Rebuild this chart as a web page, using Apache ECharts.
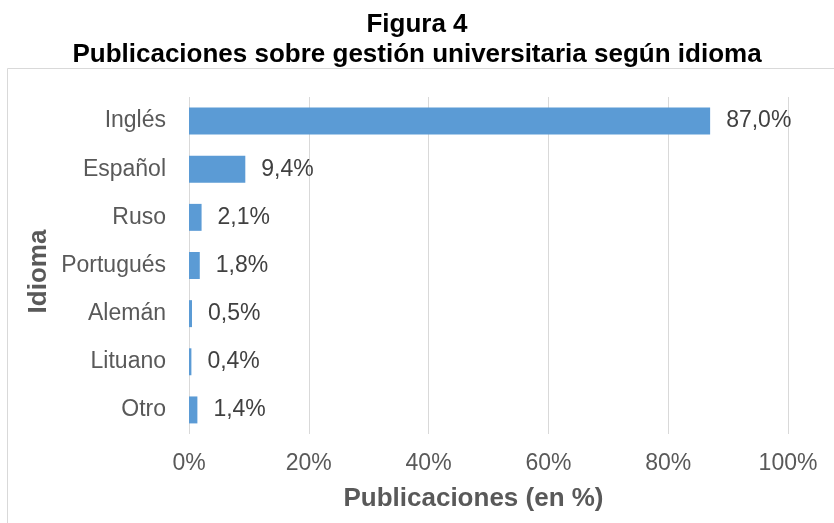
<!DOCTYPE html>
<html>
<head>
<meta charset="utf-8">
<script src="https://cdn.jsdelivr.net/npm/echarts@6/dist/echarts.min.js"></script>
<style>
  html, body { margin: 0; padding: 0; background: #fff; }
  #main { width: 834px; height: 523px; }
</style>
</head>
<body>
<div id="main"></div>
<script>
var idiomas = ['Inglés', 'Español', 'Ruso', 'Portugués', 'Alemán', 'Lituano', 'Otro'];
var porcentajes = [87.0, 9.4, 2.1, 1.8, 0.5, 0.4, 1.4];
var ticks = [0, 20, 40, 60, 80, 100];

var myChart = echarts.init(document.getElementById('main'));
var fuente = '"Liberation Sans", Arial, sans-serif';

var option = {
  backgroundColor: '#fff',
  textStyle: { fontFamily: fuente },
  title: {
    text: 'Figura 4\nPublicaciones sobre gestión universitaria según idioma',
    left: 'center',
    top: 5,
    textStyle: { fontFamily: fuente, fontSize: 26, fontWeight: 'bold', color: '#000', lineHeight: 30 }
  },
  graphic: [{
    type: 'rect',
    shape: { x: 7.5, y: 68.5, width: 900, height: 500 },
    style: { fill: 'none', stroke: '#d9d9d9', lineWidth: 1 },
    silent: true
  }],
  grid: { left: 189, right: 46, top: 97, bottom: 89 },
  xAxis: {
    type: 'value',
    min: ticks[0],
    max: ticks[ticks.length - 1],
    interval: 20,
    name: 'Publicaciones (en %)',
    nameLocation: 'middle',
    nameGap: 52,
    nameMoveOverlap: false,
    nameTextStyle: { fontFamily: fuente, fontSize: 26, fontWeight: 'bold', color: '#595959', padding: [0, 30, 0, 0] },
    axisLine: { show: false },
    axisTick: { show: false },
    axisLabel: {
      margin: 18,
      fontSize: 23,
      color: '#595959',
      formatter: function (v) { return v + '%'; }
    },
    splitLine: { lineStyle: { color: '#d9d9d9', width: 1 } }
  },
  yAxis: {
    type: 'category',
    data: idiomas,
    inverse: true,
    name: 'Idioma',
    nameLocation: 'middle',
    nameGap: 137,
    nameRotate: 90,
    nameMoveOverlap: false,
    nameTextStyle: { fontFamily: fuente, fontSize: 26, fontWeight: 'bold', color: '#595959', padding: [0, 12, 0, 0] },
    axisLine: { show: false },
    axisTick: { show: false },
    axisLabel: { margin: 23, fontSize: 23, color: '#595959' }
  },
  series: [{
    type: 'bar',
    data: porcentajes,
    barCategoryGap: '44%',
    itemStyle: { color: '#5b9bd5' },
    label: {
      show: true,
      position: 'right',
      distance: 16,
      fontSize: 23,
      color: '#404040',
      formatter: function (p) { return p.value.toFixed(1).replace('.', ',') + '%'; }
    }
  }]
};

myChart.setOption(option);
</script>
</body>
</html>
